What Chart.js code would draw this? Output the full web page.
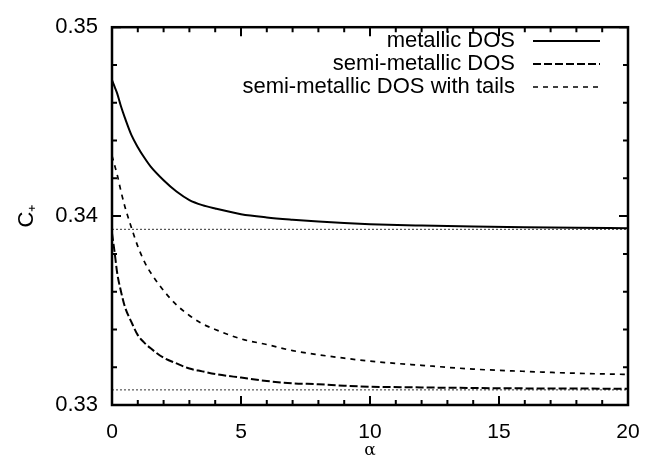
<!DOCTYPE html>
<html>
<head>
<meta charset="utf-8">
<script src="https://cdn.jsdelivr.net/npm/chart.js@4/dist/chart.umd.min.js"></script>
<style>
  html, body { margin: 0; padding: 0; background: #fff; }
  #wrap { width: 662px; height: 459px; }
</style>
</head>
<body>
<div id="wrap"><canvas id="c" width="662" height="459"></canvas></div>
<script>
// ---- data ----
const alpha = [0, 0.1, 0.2, 0.35, 0.5, 0.75, 1, 1.25, 1.5, 2, 2.5, 3, 3.5, 4, 5, 6, 7, 8, 9, 10, 12, 14, 16, 18, 20];
const metallic = [0.3472, 0.34685, 0.3465, 0.3458, 0.3452, 0.3443, 0.34365, 0.3431, 0.34262, 0.3419, 0.3413, 0.34085, 0.34058, 0.3404, 0.3401, 0.33993, 0.33981, 0.33971, 0.33963, 0.33957, 0.3395, 0.33945, 0.33941, 0.33938, 0.33936];
const semiMetallic = [0.3391, 0.3381, 0.3370, 0.3360, 0.3352, 0.3344, 0.3337, 0.3333, 0.3330, 0.3325, 0.3322, 0.33193, 0.33178, 0.33164, 0.33145, 0.33127, 0.33115, 0.3311, 0.33102, 0.33097, 0.33093, 0.3309, 0.33088, 0.33087, 0.33086];
const semiTails = [0.3432, 0.3427, 0.3422, 0.3413, 0.3405, 0.3394, 0.3384, 0.3376, 0.3370, 0.33606, 0.3353, 0.33474, 0.3343, 0.3340, 0.3335, 0.3332, 0.33288, 0.33266, 0.33248, 0.33232, 0.3321, 0.3319, 0.33178, 0.33168, 0.33162];
const asymptoteUpper = 0.3393;
const asymptoteLower = 0.3308;
const xRange = [0, 20];
const yRange = [0.33, 0.35];
const xTickLabels = ['0', '5', '10', '15', '20'];
const yTickLabels = ['0.33', '0.34', '0.35'];
const seriesLabels = ['metallic DOS', 'semi-metallic DOS', 'semi-metallic DOS with tails'];

const FONT = '"Liberation Sans", Arial, Helvetica, sans-serif';
const pts = (ys) => alpha.map((a, i) => ({ x: a, y: ys[i] }));
const hline = (v) => xRange.map(a => ({ x: a, y: v }));

// inward ticks on all four sides + frame
const frameTicks = {
  id: 'frameTicks',
  afterDraw(chart) {
    const { ctx, chartArea: ca, scales } = chart;
    ctx.save();
    ctx.strokeStyle = '#000';
    ctx.lineWidth = 2;
    const xs = scales.x, ys = scales.y;
    xs.ticks.forEach(t => {
      const p = xs.getPixelForValue(t.value);
      const len = t.label ? 9 : 5;
      ctx.beginPath();
      ctx.moveTo(p, ca.bottom); ctx.lineTo(p, ca.bottom - len);
      ctx.moveTo(p, ca.top); ctx.lineTo(p, ca.top + len);
      ctx.stroke();
    });
    ys.ticks.forEach(t => {
      const p = ys.getPixelForValue(t.value);
      const len = t.label ? 9 : 5;
      ctx.beginPath();
      ctx.moveTo(ca.left, p); ctx.lineTo(ca.left + len, p);
      ctx.moveTo(ca.right, p); ctx.lineTo(ca.right - len, p);
      ctx.stroke();
    });
    ctx.lineWidth = 2.5;
    ctx.strokeRect(ca.left, ca.top, ca.right - ca.left, ca.bottom - ca.top);
    ctx.restore();
  }
};

// gnuplot-style legend: right-aligned text, sample line to the right
const gpLegend = {
  id: 'gpLegend',
  afterDraw(chart) {
    const { ctx } = chart;
    const textRight = 515, s0 = 533, s1 = 600, y0 = 41, dy = 23;
    ctx.save();
    ctx.font = '22px ' + FONT;
    ctx.fillStyle = '#000';
    ctx.textAlign = 'right';
    ctx.textBaseline = 'middle';
    chart.data.datasets.forEach((ds, i) => {
      if (!ds.inLegend) return;
      const y = y0 + i * dy;
      ctx.fillText(ds.label, textRight, y);
      ctx.beginPath();
      ctx.strokeStyle = ds.borderColor;
      ctx.lineWidth = ds.borderWidth;
      ctx.setLineDash(ds.borderDash || []);
      ctx.moveTo(s0, y); ctx.lineTo(s1, y);
      ctx.stroke();
      ctx.setLineDash([]);
    });
    ctx.restore();
  }
};

const findLabel = (arr, v) => {
  for (const l of arr) if (Math.abs(Number(l) - v) < 1e-9) return l;
  return '';
};

new Chart(document.getElementById('c'), {
  type: 'line',
  data: {
    datasets: [
      { label: seriesLabels[0], data: pts(metallic), borderColor: '#000', borderWidth: 2, borderDash: [], inLegend: true },
      { label: seriesLabels[1], data: pts(semiMetallic), borderColor: '#000', borderWidth: 2, borderDash: [8, 3], inLegend: true },
      { label: seriesLabels[2], data: pts(semiTails), borderColor: '#000', borderWidth: 1.7, borderDash: [5, 5], inLegend: true },
      { label: 'asymptote upper', data: hline(asymptoteUpper), borderColor: '#333', borderWidth: 1, borderDash: [2, 2], inLegend: false },
      { label: 'asymptote lower', data: hline(asymptoteLower), borderColor: '#333', borderWidth: 1, borderDash: [2, 2], inLegend: false }
    ]
  },
  options: {
    responsive: false,
    animation: false,
    events: [],
    elements: { point: { radius: 0 }, line: { cubicInterpolationMode: 'monotone', fill: false } },
    layout: { padding: { left: 0, top: 16, right: 34, bottom: 0 } },
    plugins: { legend: { display: false }, tooltip: { enabled: false } },
    scales: {
      x: {
        type: 'linear', min: xRange[0], max: xRange[1],
        grid: { display: false, drawTicks: false },
        border: { display: false },
        ticks: {
          stepSize: 1, autoSkip: false, maxRotation: 0, padding: 15,
          color: '#000', font: { size: 21, family: FONT },
          callback: (v) => findLabel(xTickLabels, v)
        },
        title: { display: true, text: 'α', color: '#000', font: { size: 17, family: 'DejaVu Serif, serif', lineHeight: 1 }, padding: { top: 0, bottom: 0 } },
        afterFit: (s) => { s.height = 54; }
      },
      y: {
        min: yRange[0], max: yRange[1],
        grid: { display: false, drawTicks: false },
        border: { display: false },
        ticks: {
          stepSize: 0.002, autoSkip: false, padding: 14,
          color: '#000', font: { size: 22, family: FONT },
          callback: (v) => findLabel(yTickLabels, v)
        },
        title: { display: true, text: 'C₊', color: '#000', font: { size: 22, family: FONT, lineHeight: 1 }, padding: { top: 16, bottom: 0 } },
        afterFit: (s) => { s.width = 112; }
      }
    }
  },
  plugins: [frameTicks, gpLegend]
});
</script>
</body>
</html>
